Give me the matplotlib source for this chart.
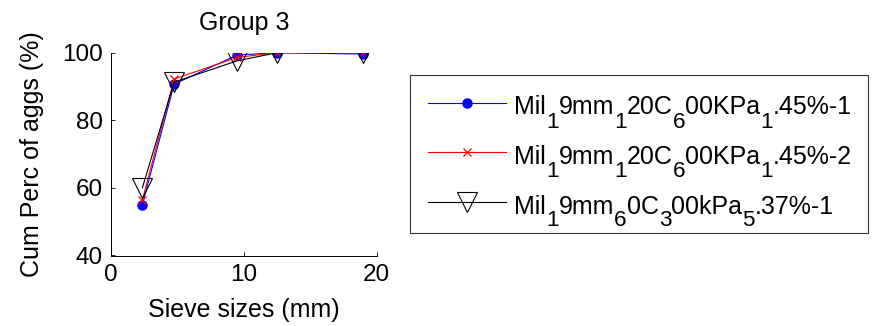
import matplotlib
matplotlib.use("Agg")
import matplotlib.pyplot as plt
from matplotlib.transforms import IdentityTransform

plt.rcParams["font.family"] = ["Liberation Sans", "DejaVu Sans"]

# Sieve sizes (mm) and cumulative percent passing for each mix
sieve_sizes = [2.36, 4.75, 9.5, 12.5, 19.0]
mix_a1 = [55.0, 90.7, 99.3, 100.0, 99.6]
mix_a2 = [56.4, 92.2, 98.6, 100.0, 100.0]
mix_b1 = [60.0, 91.3, 97.6, 100.0, 100.0]

# Legend labels as (text, is_subscript) runs
label_runs = [
    [("Mil", 0), ("1", 1), ("9mm", 0), ("1", 1), ("20C", 0), ("6", 1),
     ("00KPa", 0), ("1", 1), (".45%-1", 0)],
    [("Mil", 0), ("1", 1), ("9mm", 0), ("1", 1), ("20C", 0), ("6", 1),
     ("00KPa", 0), ("1", 1), (".45%-2", 0)],
    [("Mil", 0), ("1", 1), ("9mm", 0), ("6", 1), ("0C", 0), ("3", 1),
     ("00kPa", 0), ("5", 1), (".37%-1", 0)],
]
x_ticks = [0, 10, 20]
y_ticks = [40, 60, 80, 100]

FS = 18
SUB_FS = FS * 0.9
SUB_DROP = 13      # pixels below the main baseline
TEXT_SHIFT = 3     # pixels the label baseline sits below the legend default

W, H = 881, 326
AX_L, AX_R, AX_T, AX_B = 111, 376.7, 52.7, 255.5
fig = plt.figure(figsize=(W / 100, H / 100), dpi=100)
ax = fig.add_axes([AX_L / W, 1 - AX_B / H, (AX_R - AX_L) / W, (AX_B - AX_T) / H])

# Placeholder strings size the legend box; the visible labels are laid out below
plain = ["".join(t for t, _ in runs) for runs in label_runs]
holders = [p[:-1] + "." for p in plain]
ax.plot(sieve_sizes, mix_a1, color="blue", lw=0.8, marker="o", ms=6.5,
        mfc="blue", mec="blue", label=holders[0])
ax.plot(sieve_sizes, mix_a2, color="red", lw=0.8, marker="x", ms=5.5,
        mew=0.9, label=holders[1])
ax.plot(sieve_sizes, mix_b1, color="black", lw=0.8, marker="v", ms=14.5,
        mfc="none", mec="black", mew=0.8, label=holders[2])

ax.set_xlim(0, 20)
ax.set_ylim(40, 100)
ax.set_xticks(x_ticks)
ax.set_yticks(y_ticks)
ax.tick_params(direction="in", length=3, width=0.6, labelsize=17.5, pad=6,
               top=False, right=False)
for side in ("top", "right"):
    ax.spines[side].set_visible(False)
for side in ("left", "bottom"):
    ax.spines[side].set_linewidth(0.7)

ax.set_title("Group 3", fontsize=FS, pad=16)
ax.set_xlabel("Sieve sizes (mm)", fontsize=FS, labelpad=9)
ax.set_ylabel("Cum Perc of aggs (%)", fontsize=FS)
ax.yaxis.set_label_coords((44 - AX_L) / (AX_R - AX_L), 0.5)

leg = ax.legend(loc="upper left", bbox_to_anchor=(410 / W, 1 - 75 / H),
                bbox_transform=fig.transFigure, fontsize=FS, frameon=True,
                fancybox=False, edgecolor="black", handlelength=3.15,
                handletextpad=0.32, labelspacing=1.02, borderpad=0.7,
                borderaxespad=0)
leg.get_frame().set_linewidth(0.8)

# Lay out the labels with lowered subscripts
fig.canvas.draw()
renderer = fig.canvas.get_renderer()


def text_width(s, size):
    t = fig.text(0, 0, s, fontsize=size)
    w = t.get_window_extent(renderer).width
    t.remove()
    return w


for txt, runs in zip(leg.texts, label_runs):
    x0, y0 = txt.get_transform().transform(txt.get_position())
    txt.set_visible(False)
    y0 -= TEXT_SHIFT
    x = x0
    for s, sub in runs:
        size = SUB_FS if sub else FS
        y = y0 - SUB_DROP if sub else y0
        fig.text(x, y, s, fontsize=size, transform=IdentityTransform(),
                 va="baseline", ha="left")
        x += text_width(s + "|", size) - text_width("|", size)

fig.savefig("out.png", dpi=100, facecolor="white")
